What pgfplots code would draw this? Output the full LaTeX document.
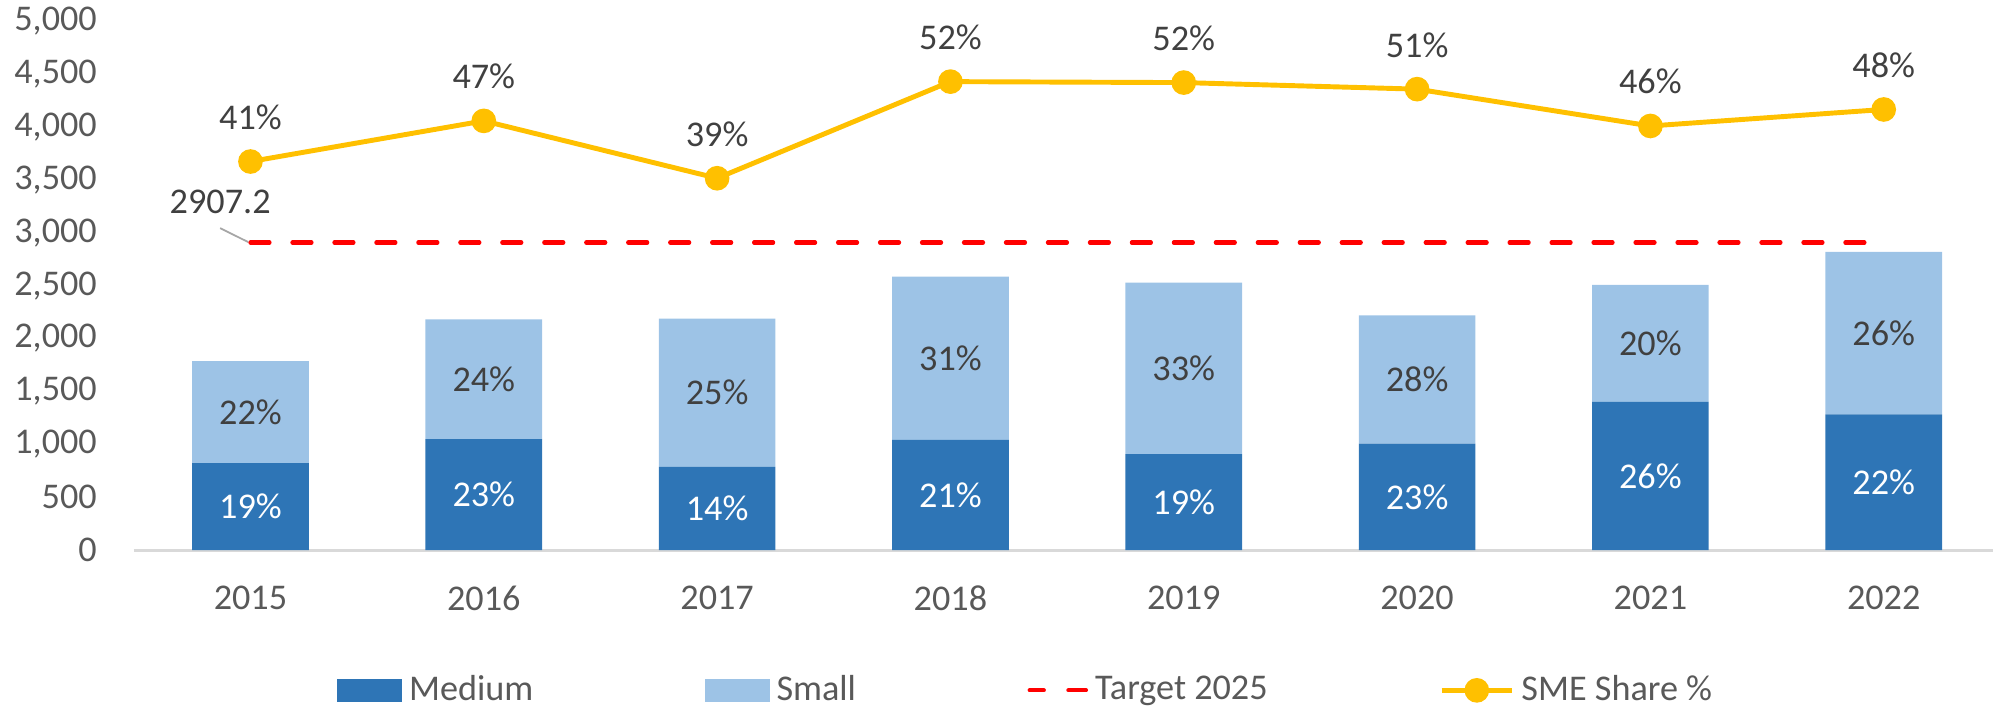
\documentclass[border=0pt]{standalone}
\usepackage{fontspec}
\setmainfont{Carlito}
\usepackage{pgfplots}
\pgfplotsset{compat=1.18}

\definecolor{medc}{HTML}{2E75B6}
\definecolor{smallc}{HTML}{9DC3E6}
\definecolor{targc}{HTML}{FF0000}
\definecolor{smec}{HTML}{FFC000}
\definecolor{tickc}{HTML}{595959}
\definecolor{labc}{HTML}{404040}

\newcommand{\cf}{\fontsize{10.3}{12}\selectfont}

\pgfplotsset{
  common/.style={
    scale only axis,
    width=529pt, height=150.5pt,
    xmin=-0.5, xmax=7.47,
    ymin=0, ymax=5000,
    clip=false,
    /pgf/number format/assume math mode=true,
  },
}

\begin{document}
\begin{tikzpicture}
% bars
\begin{axis}[
    common,
    ybar stacked,
    bar width=0.5,
    ytick={0,500,...,5000},
    xtick=data,
    xticklabels={2015,2016,2017,2018,2019,2020,2021,2022},
    axis x line*=bottom, axis y line*=left,
    y axis line style={draw=none},
    x axis line style={draw=black!15, line width=0.8pt},
    major tick length=0pt,
    tick style={draw=none},
    /pgf/number format/1000 sep={,},
    ticklabel style={font=\cf, text=tickc},
    xticklabel style={yshift=-6.7pt},
    yticklabel style={xshift=-7pt},
    point meta=explicit,
    every node near coord/.style={font=\cf, anchor=center},
]
\addplot[fill=medc, draw=none,
    nodes near coords={\color{white}\pgfmathprintnumber{\pgfplotspointmeta}\%},
] coordinates {
    (0,822) [19] (1,1049) [23] (2,788) [14] (3,1041) [21]
    (4,908) [19] (5,1006) [23] (6,1402) [26] (7,1282) [22]
};
\addplot[fill=smallc, draw=none,
    nodes near coords={\color{labc}\pgfmathprintnumber{\pgfplotspointmeta}\%},
] coordinates {
    (0,964) [22] (1,1131) [24] (2,1400) [25] (3,1545) [31]
    (4,1621) [33] (5,1213) [28] (6,1105) [20] (7,1538) [26]
};
\coordinate (O) at (rel axis cs:0,0);
\end{axis}
% lines and legend
\begin{axis}[
    common,
    hide axis,
    point meta=explicit,
    every node near coord/.style={font=\cf, text=labc, anchor=south, yshift=5pt},
    legend columns=4,
    legend style={at={(0.481,-0.265)}, anchor=center, draw=none, font=\cf, text=tickc,
        /tikz/every even column/.append style={column sep=46.8pt}},
]
\addlegendimage{legend image code/.code={\fill[medc] (0pt,-3pt) rectangle (18pt,3pt);}}
\addlegendentry{Medium}
\addlegendimage{legend image code/.code={\fill[smallc] (0pt,-3pt) rectangle (18pt,3pt);}}
\addlegendentry{Small}
\addplot[draw=targc, line width=1.2pt, line cap=round,
    dash pattern=on 5.4pt off 6.54pt,
    legend image code/.code={\draw[targc, line width=1.2pt, line cap=round]
        (0pt,0pt) -- (4pt,0pt) (11pt,0pt) -- (16pt,0pt);},
] coordinates {(0,2907.2) (7,2907.2)};
\addlegendentry{Target 2025}
\addplot[draw=smec, line width=1.4pt,
    mark=*, mark size=2.8pt, mark options={fill=smec, draw=smec, solid},
    nodes near coords={\pgfmathprintnumber{\pgfplotspointmeta}\%},
    legend image code/.code={\draw[smec, line width=1.4pt] (0pt,0pt) -- (20pt,0pt);
        \fill[smec] (10pt,0pt) circle (2.8pt);},
] coordinates {
    (0,3673) [41] (1,4057) [47] (2,3515) [39] (3,4428) [52]
    (4,4419) [52] (5,4357) [51] (6,4009) [46] (7,4165) [48]
};
\addlegendentry{SME Share \%}
\draw[black!35, line width=0.5pt] (axis cs:-0.13,3043) -- (axis cs:-0.01,2912);
\node[font=\cf, text=labc] at (axis cs:-0.13,3289) {2907.2};
\end{axis}
\pgfresetboundingbox
\useasboundingbox ([shift={(-38.07pt,-45.5pt)}]O) rectangle ([shift={(528.9pt,156.5pt)}]O);
\end{tikzpicture}
\end{document}
